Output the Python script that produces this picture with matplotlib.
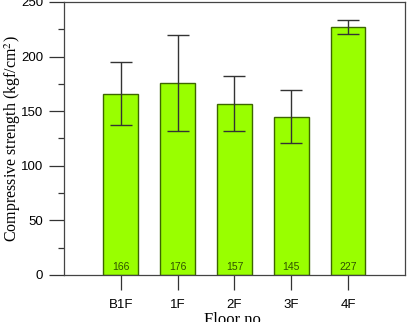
import matplotlib
matplotlib.use("Agg")
import matplotlib.pyplot as plt
from matplotlib.ticker import MultipleLocator

floors = ["B1F", "1F", "2F", "3F", "4F"]
strength = [166, 176, 157, 145, 227]
err = [29, 44, 25.5, 24.5, 6.5]

plt.rcParams["mathtext.fontset"] = "stix"

fig = plt.figure(figsize=(4.09, 3.22), dpi=100)
ax = fig.add_axes([0.1565, 0.146, 0.8335, 0.848])

x = list(range(len(floors)))
ax.bar(x, strength, width=0.61, color="#99ff00", edgecolor="#3d6600", linewidth=1.0,
       yerr=err, capsize=8, error_kw=dict(ecolor="#333333", elinewidth=1.0, capthick=1.0))

for xi, v in zip(x, strength):
    ax.text(xi, 3, str(v), ha="center", va="bottom", fontsize=7.5,
            color="#2f5200", family="Liberation Sans")

ax.set_xlim(-1, 5)
ax.set_ylim(0, 250)
ax.set_xticks(x)
ax.set_xticklabels(floors)
ax.yaxis.set_major_locator(MultipleLocator(50))
ax.yaxis.set_minor_locator(MultipleLocator(25))

ax.tick_params(axis="both", which="major", direction="out", length=11, width=0.9,
               labelsize=9.5, color="#333333", pad=4)
ax.tick_params(axis="x", which="major", pad=6)
ax.tick_params(axis="y", which="minor", direction="out", length=4.5, width=0.9, color="#333333")
for lab in ax.get_xticklabels() + ax.get_yticklabels():
    lab.set_family("Liberation Sans")

for s in ax.spines.values():
    s.set_color("#444444")
    s.set_linewidth(0.9)

ax.set_ylabel("Compressive strength (kgf/cm$^2$)", family="Liberation Serif", fontsize=11.5)
ax.yaxis.set_label_coords(-0.12, 0.5)
ax.set_xlabel("Floor no.", family="Liberation Serif", fontsize=12, va="top")
ax.xaxis.set_label_coords(0.5, -0.136)

fig.savefig("out.png", dpi=100)
